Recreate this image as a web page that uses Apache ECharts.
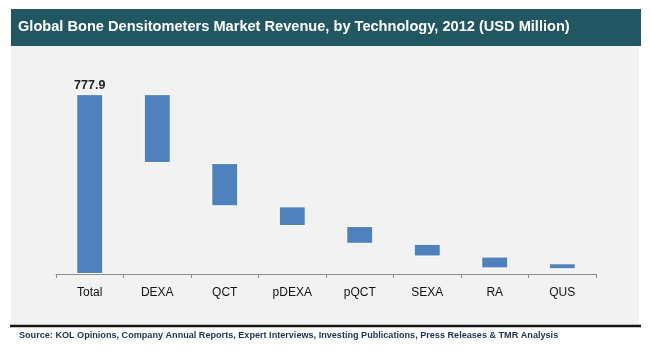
<!DOCTYPE html>
<html>
<head>
<meta charset="utf-8">
<script src="https://cdn.jsdelivr.net/npm/echarts@6/dist/echarts.min.js"></script>
<style>html,body{margin:0;padding:0;background:#fff;}#c{width:650px;height:358px;}</style>
</head>
<body>
<div id="c"></div>
<script>
var titleText = 'Global Bone Densitometers Market Revenue, by Technology, 2012 (USD Million)';
var sourceText = 'Source: KOL Opinions, Company Annual Reports, Expert Interviews, Investing Publications, Press Releases & TMR Analysis';
var categories = ['Total', 'DEXA', 'QCT', 'pDEXA', 'pQCT', 'SEXA', 'RA', 'QUS'];
// invisible base of each floating bar
var baseValues = [0, 479.7, 292.6, 207.4, 130.5, 75.6, 24.0, 20.3];
// visible segment of each bar
var segValues = [777.9, 298.2, 187.0, 85.2, 76.9, 54.9, 51.6, 26.0];
var labelledIndex = 0;

var chart = echarts.init(document.getElementById('c'), null, {renderer: 'canvas'});
var option = {
  animation: false,
  backgroundColor: '#ffffff',
  graphic: [
    {type: 'rect', z: -10, shape: {x: 11, y: 46, width: 628, height: 279}, style: {fill: '#F2F2F2'}},
    {type: 'rect', z: -10, shape: {x: 11, y: 9, width: 630, height: 37}, style: {fill: '#215763'}},
    {type: 'line', z: -10, shape: {x1: 10, y1: 326, x2: 641, y2: 326}, style: {stroke: '#151515', lineWidth: 2.5}},
    {type: 'text', left: 18, top: 19, style: {text: titleText, fill: '#ffffff', font: 'bold 14.6px "Liberation Sans", Arial, sans-serif'}},
    {type: 'text', left: 19, top: 331, style: {text: sourceText, fill: '#1F3050', font: 'bold 9.1px "Liberation Sans", Arial, sans-serif'}}
  ],
  grid: {left: 56, right: 54, top: 89, bottom: 84, containLabel: false},
  xAxis: {
    type: 'category',
    data: categories,
    boundaryGap: true,
    axisLine: {lineStyle: {color: '#8C8C8C', width: 1}},
    axisTick: {show: true, length: 4, lineStyle: {color: '#8C8C8C'}},
    axisLabel: {color: '#111111', fontSize: 12, margin: 13, fontFamily: '"Liberation Sans", Arial, sans-serif'}
  },
  yAxis: {type: 'value', min: 0, max: 800, show: false, splitLine: {show: false}},
  series: [
    {
      type: 'bar', stack: 'w', barWidth: 27,
      itemStyle: {color: 'rgba(0,0,0,0)', borderWidth: 0},
      emphasis: {disabled: true},
      data: baseValues
    },
    {
      type: 'bar', stack: 'w', barWidth: 27,
      itemStyle: {color: '#4F81BD', borderColor: '#FFFFFF', borderWidth: 1},
      data: segValues.map(function (v, i) {
        return {
          value: v,
          label: {
            show: i === labelledIndex, position: 'top', distance: 2,
            formatter: function (p) { return p.value.toFixed(1); },
            color: '#222222', fontSize: 12.5, fontWeight: 'bold',
            fontFamily: '"Liberation Sans", Arial, sans-serif'
          }
        };
      })
    }
  ]
};
chart.setOption(option);
</script>
</body>
</html>
